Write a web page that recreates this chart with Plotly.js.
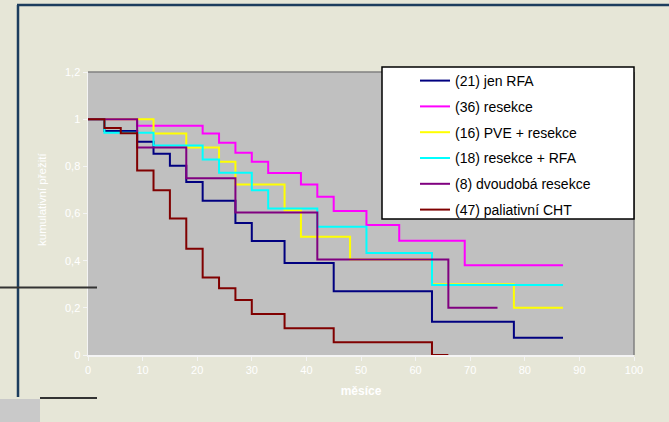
<!DOCTYPE html>
<html>
<head>
<meta charset="utf-8">
<script src="https://cdn.plot.ly/plotly-3.0.1.min.js"></script>
<style>html,body{margin:0;padding:0;background:#e6e6d7;}</style>
</head>
<body>
<div id="chart" style="width:669px;height:422px;"></div>
<script>
// Kaplan-Meier step data (months, cumulative survival)
const names = ["(21) jen RFA", "(36) resekce", "(16) PVE + resekce", "(18) resekce + RFA", "(8) dvoudobá resekce", "(47) paliativní CHT"];
const colors = ["#000080", "#ff00ff", "#ffff00", "#00ffff", "#800080", "#800000"];

const rfaX = [0, 3, 9, 12, 15, 18, 21, 27, 30, 36, 45, 63, 78, 87];
const rfaY = [1, 0.95, 0.904, 0.853, 0.802, 0.734, 0.654, 0.56, 0.483, 0.39, 0.27, 0.141, 0.073, 0.073];

const resX = [0, 9, 21, 24, 27, 30, 33, 39, 42, 45, 51, 57, 69, 87];
const resY = [1, 0.972, 0.939, 0.90, 0.858, 0.819, 0.772, 0.723, 0.671, 0.611, 0.551, 0.484, 0.381, 0.381];

const pveX = [0, 12, 18, 24, 27, 36, 39, 48, 63, 78, 87];
const pveY = [1, 0.939, 0.88, 0.819, 0.723, 0.614, 0.501, 0.405, 0.30, 0.20, 0.20];

const resRfaX = [0, 3, 12, 21, 24, 30, 33, 42, 51, 63, 87];
const resRfaY = [1, 0.942, 0.888, 0.829, 0.773, 0.699, 0.621, 0.544, 0.433, 0.297, 0.297];

const dvoX = [0, 9, 18, 27, 42, 66, 75];
const dvoY = [1, 0.88, 0.749, 0.604, 0.405, 0.20, 0.20];

const chtX = [0, 3, 6, 9, 12, 15, 18, 21, 24, 27, 30, 36, 45, 63, 66];
const chtY = [1, 0.963, 0.94, 0.782, 0.699, 0.579, 0.451, 0.329, 0.283, 0.233, 0.174, 0.113, 0.054, 0, 0];

const xs = [rfaX, resX, pveX, resRfaX, dvoX, chtX];
const ys = [rfaY, resY, pveY, resRfaY, dvoY, chtY];

const traces = names.map((n, i) => ({
  type: "scatter", mode: "lines", name: n,
  x: xs[i], y: ys[i],
  line: {shape: "hv", color: colors[i], width: 2},
  legendgroup: "g" + i,
  hoverinfo: "skip"
}));

// pixel -> paper helpers for decorations
const L = 88, R = 634, T = 72, B = 355;
const px = v => (v - L) / (R - L);
const py = v => (B - v) / (B - T);

const shapes = [
  // plot frame top/right (gray)
  {type: "line", xref: "paper", yref: "paper", x0: 0, x1: 1, y0: 1, y1: 1, line: {color: "#808080", width: 1.5}, layer: "above"},
  {type: "line", xref: "paper", yref: "paper", x0: 1, x1: 1, y0: 0, y1: 1, line: {color: "#808080", width: 1.5}, layer: "above"},
  // legend box
  {type: "rect", xref: "paper", yref: "paper", x0: px(382), x1: px(634), y0: py(219), y1: py(67), fillcolor: "#ffffff", line: {color: "#000000", width: 1.5}, layer: "above"},
  // slide decorations
  {type: "line", xref: "paper", yref: "paper", x0: px(17), x1: px(669), y0: py(5), y1: py(5), line: {color: "#1c3d5e", width: 2.5}, layer: "above"},
  {type: "line", xref: "paper", yref: "paper", x0: px(18), x1: px(18), y0: py(5), y1: py(397), line: {color: "#1c3d5e", width: 2.5}, layer: "above"},
  {type: "line", xref: "paper", yref: "paper", x0: px(0), x1: px(97), y0: py(287.5), y1: py(287.5), line: {color: "#333333", width: 2}, layer: "above"},
  {type: "line", xref: "paper", yref: "paper", x0: px(40), x1: px(97), y0: py(398), y1: py(398), line: {color: "#333333", width: 2}, layer: "above"},
  {type: "rect", xref: "paper", yref: "paper", x0: px(0), x1: px(40), y0: py(422), y1: py(399), fillcolor: "#c9c9c9", line: {width: 0}, layer: "above"}
];

const fam = "Arial, 'Liberation Sans', sans-serif";
const tickFont = {family: fam, size: 11, color: "#ffffff"};

const layout = {
  width: 669, height: 422,
  margin: {l: L, r: 669 - R, t: T, b: 422 - B, pad: 0},
  paper_bgcolor: "#e6e6d7",
  plot_bgcolor: "#c0c0c0",
  separators: ", ",
  showlegend: true,
  legend: {
    x: px(415), xanchor: "left", y: py(65), yanchor: "top",
    bgcolor: "rgba(0,0,0,0)", borderwidth: 0,
    font: {family: fam, size: 14, color: "#000000"},
    tracegroupgap: 4.6
  },
  xaxis: {
    range: [0, 100], dtick: 10, tick0: 0,
    showgrid: false, zeroline: false,
    showline: true, linecolor: "#f4f4f4", linewidth: 1.5,
    ticks: "outside", ticklen: 4, tickcolor: "#f4f4f4",
    tickfont: tickFont,
    title: {text: "měsíce", font: {family: fam, size: 12, color: "#ffffff", weight: "bold"}, standoff: 12}
  },
  yaxis: {
    range: [0, 1.2], dtick: 0.2, tick0: 0,
    showgrid: false, zeroline: false,
    showline: true, linecolor: "#f4f4f4", linewidth: 1.5,
    ticks: "outside", ticklen: 4, tickcolor: "#f4f4f4",
    tickfont: tickFont
  },
  annotations: [
    {text: "kumulativní přežití", xref: "paper", yref: "paper", x: px(42), y: py(200),
     xanchor: "center", yanchor: "middle", textangle: -90, showarrow: false,
     font: {family: fam, size: 11.5, color: "#ffffff"}}
  ],
  shapes: shapes
};

Plotly.newPlot("chart", traces, layout, {staticPlot: true, displayModeBar: false});
</script>
</body>
</html>
